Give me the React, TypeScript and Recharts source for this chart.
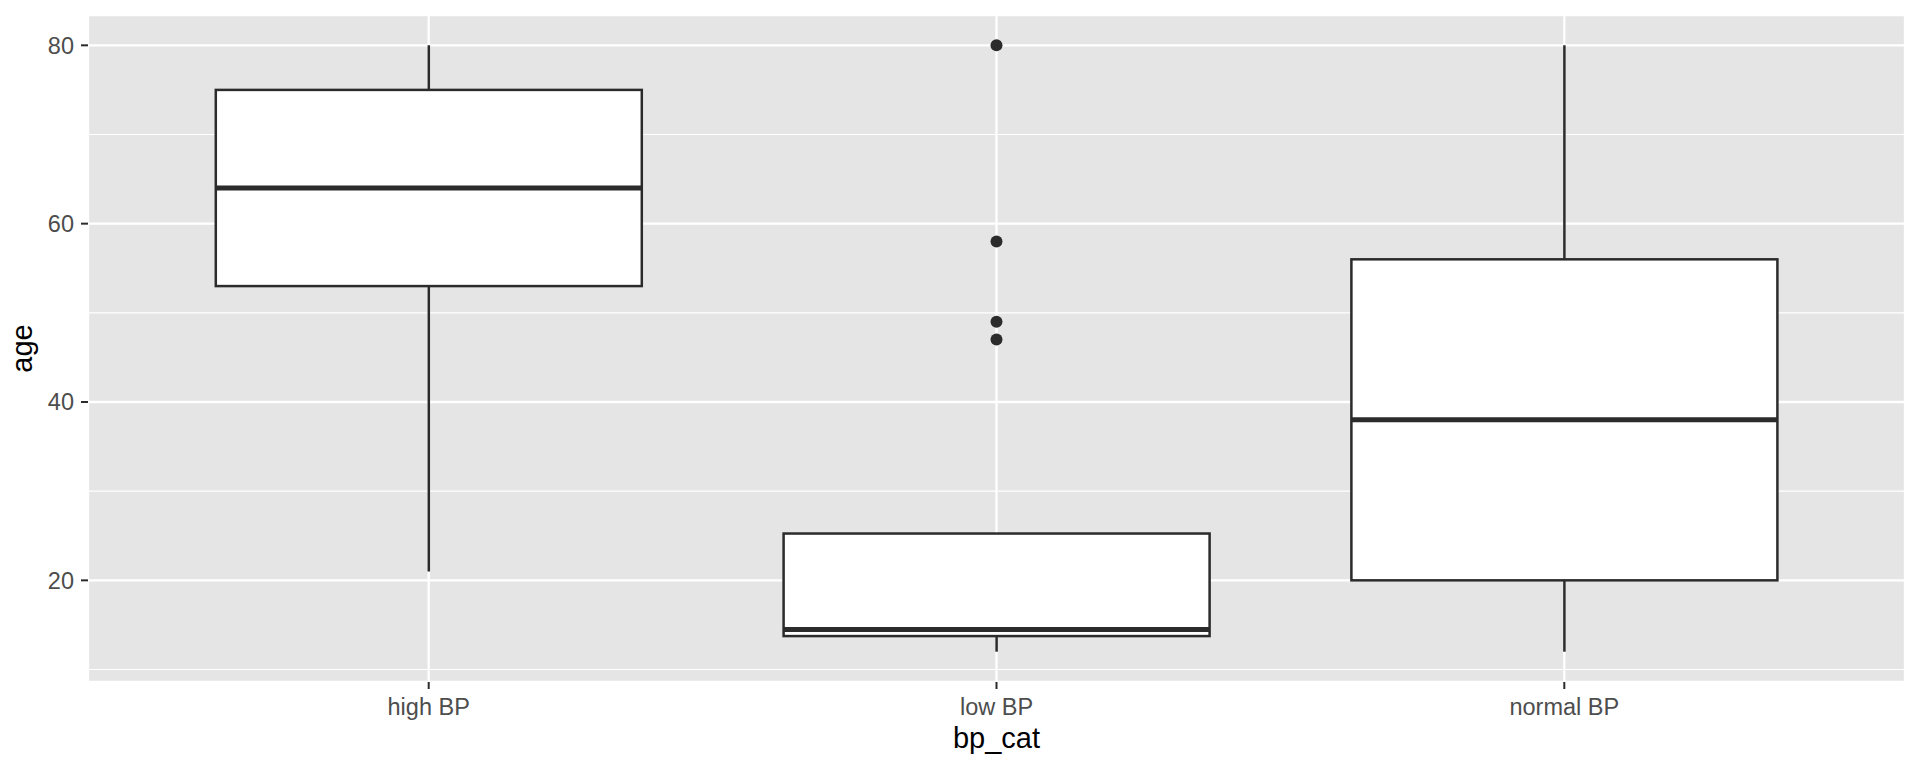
import React from "react"
import { Bar, CartesianGrid, ComposedChart, Scatter, XAxis, YAxis } from "recharts"

// box statistics (age by bp_cat)
const categories = ["high BP", "low BP", "normal BP"]
const whiskerLow = [21, 12, 12]
const q1 = [53, 13.75, 20]
const median = [64, 14.5, 38]
const q3 = [75, 25.25, 56]
const whiskerHigh = [80, 25.25, 80]

// outliers
const outlierCat = ["low BP", "low BP", "low BP", "low BP"]
const outlierAge = [80, 58, 49, 47]

const yDomain = [8.6, 83.4]
const yTicks = [20, 40, 60, 80]
const yMinor = [10, 30, 50, 70]

const boxData = categories.map((cat, i) => ({
  cat,
  lo: whiskerLow[i],
  q1: q1[i],
  med: median[i],
  q3: q3[i],
  hi: whiskerHigh[i],
}))

const outlierData = outlierCat.map((cat, i) => ({ cat, age: outlierAge[i] }))

const INK = "#2b2b2b"
const FONT = "'Liberation Sans', Arial, Helvetica, sans-serif"

function BoxShape(props: any) {
  const { x, y, width, height, payload } = props
  const h = Math.abs(height)
  const ppu = h / (payload.hi - payload.lo || 1)
  const top = Math.min(y, y + height)
  const yOf = (v: number) => top + (payload.hi - v) * ppu
  const cx = x + width / 2
  const yQ1 = yOf(payload.q1)
  const yQ3 = yOf(payload.q3)
  return (
    <g>
      <line x1={cx} x2={cx} y1={yOf(payload.hi)} y2={yQ3} stroke={INK} strokeWidth={2.5} />
      <line x1={cx} x2={cx} y1={yQ1} y2={yOf(payload.lo)} stroke={INK} strokeWidth={2.5} />
      <rect x={x} y={yQ3} width={width} height={yQ1 - yQ3} fill="#ffffff" stroke={INK} strokeWidth={2.5} />
      <line x1={x} x2={x + width} y1={yOf(payload.med)} y2={yOf(payload.med)} stroke={INK} strokeWidth={5} />
    </g>
  )
}

function Dot(props: any) {
  const { cx, cy } = props
  return <circle cx={cx} cy={cy} r={6} fill={INK} />
}

function YTitle(props: any) {
  const vb = props.viewBox || { x: 0, y: 15, width: 88, height: 667 }
  const cx = vb.x + 32
  const cy = vb.y + vb.height / 2
  return (
    <text x={cx} y={cy} transform={`rotate(-90, ${cx}, ${cy})`} textAnchor="middle" fontSize={29} fill="#000" fontFamily={FONT}>
      age
    </text>
  )
}

function XTitle(props: any) {
  const vb = props.viewBox || { x: 88, y: 682, width: 1817, height: 86 }
  return (
    <text x={vb.x + vb.width / 2} y={vb.y + 66} textAnchor="middle" fontSize={29} fill="#000" fontFamily={FONT}>
      bp_cat
    </text>
  )
}

// minor horizontal grid lines, placed with the axis scale when it is available
const minorLines = ({ yAxis, offset }: any) =>
  yMinor.map((v) =>
    typeof yAxis?.scale === "function"
      ? yAxis.scale(v)
      : offset.top + ((yDomain[1] - v) / (yDomain[1] - yDomain[0])) * offset.height
  )

export default function App() {
  return (
    <div style={{ position: "absolute", left: 0, top: 0, width: 1920, height: 768, background: "#fff" }}>
      <ComposedChart width={1920} height={768} data={boxData} margin={{ top: 15, right: 15, bottom: 0, left: 0 }}>
        <CartesianGrid
          fill="#e5e5e5"
          stroke="#ffffff"
          strokeWidth={1.2}
          vertical={false}
          horizontalCoordinatesGenerator={minorLines}
        />
        <CartesianGrid stroke="#ffffff" strokeWidth={2.3} />
        <XAxis
          dataKey="cat"
          type="category"
          allowDuplicatedCategory={false}
          padding={{ left: 56.8, right: 56.8 }}
          height={86}
          axisLine={false}
          tickSize={7}
          tickMargin={9}
          tickLine={{ stroke: INK, strokeWidth: 2 }}
          tick={{ fill: "#4d4d4d", fontSize: 23.5, fontFamily: FONT }}
          label={<XTitle />}
        />
        <YAxis
          type="number"
          domain={yDomain}
          ticks={yTicks}
          allowDataOverflow
          width={88}
          axisLine={false}
          tickSize={7}
          tickMargin={7}
          tickLine={{ stroke: INK, strokeWidth: 2 }}
          tick={{ fill: "#4d4d4d", fontSize: 23.5, fontFamily: FONT }}
          label={<YTitle />}
        />
        <Bar dataKey={(d: any) => [d.lo, d.hi]} barSize={426} shape={<BoxShape />} isAnimationActive={false} />
        <Scatter data={outlierData} dataKey="age" shape={<Dot />} isAnimationActive={false} />
      </ComposedChart>
    </div>
  )
}
